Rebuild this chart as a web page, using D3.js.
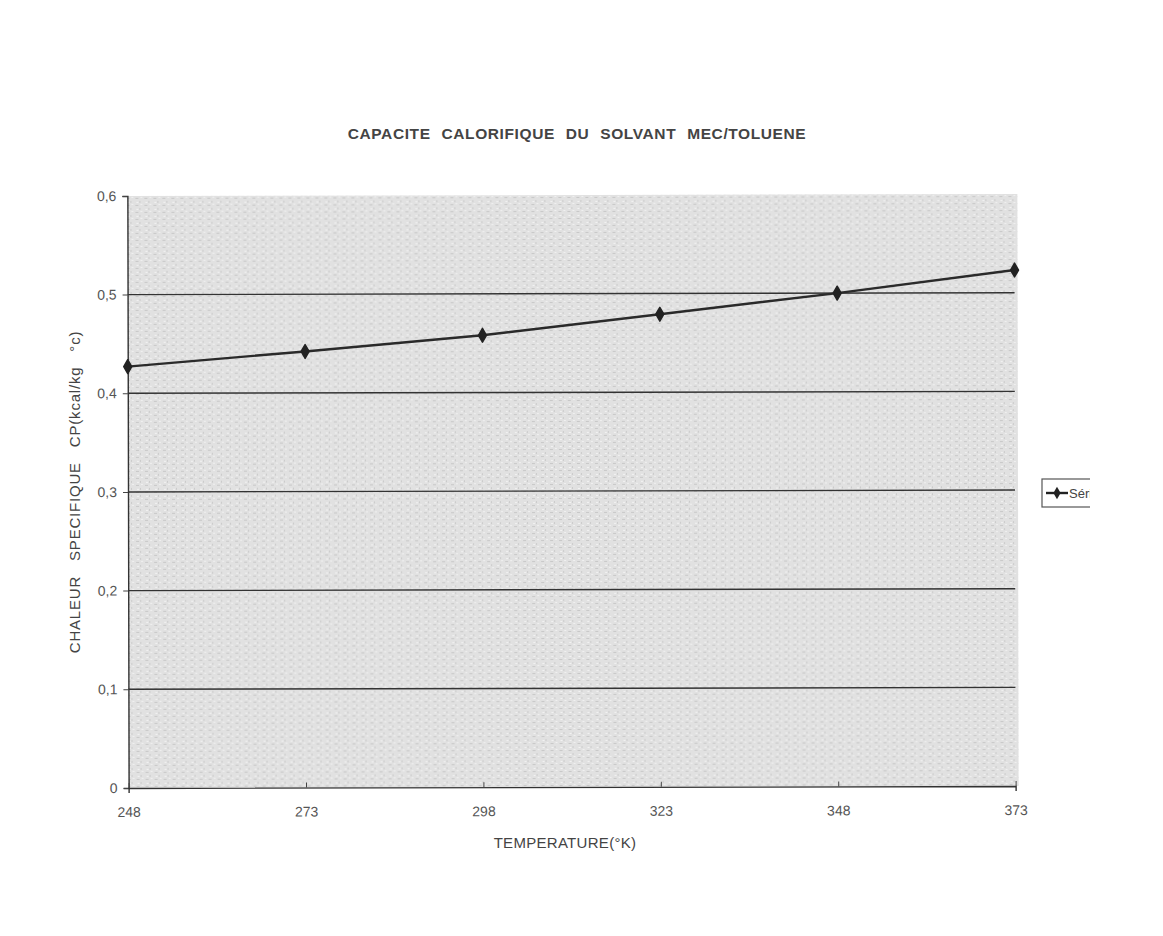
<!DOCTYPE html>
<html>
<head>
<meta charset="utf-8">
<script src="https://cdn.jsdelivr.net/npm/d3@7"></script>
<style>
  body { margin: 0; background: #fff; }
  svg { display: block; font-family: 'Liberation Sans', Arial, sans-serif; }
  .tick text { fill: #555; font-size: 14px; }
</style>
</head>
<body>
<div id="chart"></div>
<script>
(function () {
  'use strict'

  // Data
  var temperatures = [248, 273, 298, 323, 348, 373]
  var cpValues = [0.427, 0.442, 0.458, 0.479, 0.500, 0.523]
  var yTicks = [0, 0.1, 0.2, 0.3, 0.4, 0.5, 0.6]
  var seriesName = 'Série1'

  var W = 1163
  var H = 936
  var left = 128
  var right = 1015
  var top = 195
  var bottom = 787

  var svg = d3.select('#chart').append('svg')
    .attr('width', W)
    .attr('height', H)

  // grainy photocopy texture
  var defs = svg.append('defs')
  var pat = defs.append('pattern')
    .attr('id', 'grain')
    .attr('width', 9)
    .attr('height', 7)
    .attr('patternUnits', 'userSpaceOnUse')
  pat.append('rect').attr('width', 9).attr('height', 7).attr('fill', '#e1e1e1')
  pat.append('rect').attr('x', 1).attr('y', 1).attr('width', 3).attr('height', 1).attr('fill', '#c8c8c8')
  pat.append('rect').attr('x', 5).attr('y', 4).attr('width', 1).attr('height', 2).attr('fill', '#cbcbcb')
  pat.append('rect').attr('x', 6).attr('y', 0).attr('width', 2).attr('height', 1).attr('fill', '#f0f0f0')
  pat.append('rect').attr('x', 2).attr('y', 5).attr('width', 2).attr('height', 1).attr('fill', '#f2f2f2')

  var x = d3.scalePoint().domain(temperatures).range([left, right])
  var y = d3.scaleLinear().domain([0, 0.6]).range([bottom, top])

  var g = svg.append('g').attr('transform', 'rotate(-0.12,' + ((left + right) / 2) + ',' + ((top + bottom) / 2) + ')')

  g.append('rect')
    .attr('x', left)
    .attr('y', top)
    .attr('width', right - left + 3)
    .attr('height', bottom - top)
    .attr('fill', 'url(#grain)')

  // Horizontal gridlines
  g.append('g').selectAll('line')
    .data(yTicks.filter(function (d) { return d > 0 && d < 0.6 }))
    .enter().append('line')
    .attr('x1', left)
    .attr('x2', right)
    .attr('y1', function (d) { return y(d) })
    .attr('y2', function (d) { return y(d) })
    .attr('stroke', '#333')
    .attr('stroke-width', 1.4)

  // Axes
  var yAxis = d3.axisLeft(y).tickValues(yTicks).tickSize(5).tickPadding(6)
    .tickFormat(function (d) { return d === 0 ? '0' : d3.format('.1f')(d).replace('.', ',') })
  var xAxis = d3.axisBottom(x).tickSize(5).tickPadding(14)

  var ya = g.append('g')
    .attr('transform', 'translate(' + left + ',0)')
    .call(yAxis)
  var xa = g.append('g')
    .attr('transform', 'translate(0,' + bottom + ')')
    .call(xAxis)

  ;[ya, xa].forEach(function (a) {
    a.select('.domain').attr('stroke', '#333').attr('stroke-width', 1.4)
    a.selectAll('.tick line').attr('stroke', '#444')
    a.selectAll('.tick text').style('font-family', "'Liberation Sans Narrow', 'Liberation Sans', sans-serif")
  })
  xa.selectAll('.tick line').attr('transform', 'translate(0,-5)')

  // Series line
  var line = d3.line()
    .x(function (d, i) { return x(temperatures[i]) })
    .y(function (d) { return y(d) })

  g.append('path')
    .datum(cpValues)
    .attr('d', line)
    .attr('fill', 'none')
    .attr('stroke', '#2a2a2a')
    .attr('stroke-width', 2.4)

  g.append('g').selectAll('path')
    .data(cpValues)
    .enter().append('path')
    .attr('transform', function (d, i) { return 'translate(' + x(temperatures[i]) + ',' + y(d) + ')' })
    .attr('d', d3.symbol().type(d3.symbolDiamond).size(55))
    .attr('fill', '#222')
    .attr('stroke', '#222')
    .attr('stroke-width', 1.5)
    .attr('stroke-linejoin', 'round')

  // Titles
  svg.append('text')
    .attr('x', 577)
    .attr('y', 139)
    .attr('text-anchor', 'middle')
    .attr('font-size', 15.5)
    .attr('font-weight', 'bold')
    .attr('fill', '#444')
    .attr('word-spacing', 6)
    .attr('letter-spacing', 0.6)
    .text('CAPACITE CALORIFIQUE DU SOLVANT MEC/TOLUENE')

  svg.append('text')
    .attr('x', 565)
    .attr('y', 848)
    .attr('text-anchor', 'middle')
    .attr('font-size', 15)
    .attr('fill', '#444')
    .attr('letter-spacing', 0.3)
    .text('TEMPERATURE(°K)')

  svg.append('text')
    .attr('transform', 'translate(80,' + 492 + ') rotate(-90)')
    .attr('text-anchor', 'middle')
    .attr('font-size', 15)
    .attr('fill', '#444')
    .attr('word-spacing', 10)
    .attr('letter-spacing', 0.8)
    .text('CHALEUR SPECIFIQUE CP(kcal/kg °c)')

  // Legend, clipped at the page edge like the scan
  defs.append('clipPath').attr('id', 'edge')
    .append('rect').attr('x', 0).attr('y', 0).attr('width', 1090).attr('height', H)
  var lg = svg.append('g').attr('clip-path', 'url(#edge)')
  lg.append('rect')
    .attr('x', 1042).attr('y', 479)
    .attr('width', 60).attr('height', 28)
    .attr('fill', '#fff')
    .attr('stroke', '#555')
    .attr('stroke-width', 1.2)
  lg.append('line')
    .attr('x1', 1046).attr('x2', 1068)
    .attr('y1', 493).attr('y2', 493)
    .attr('stroke', '#222').attr('stroke-width', 2.4)
  lg.append('path')
    .attr('transform', 'translate(1057,493)')
    .attr('d', d3.symbol().type(d3.symbolDiamond).size(45))
    .attr('fill', '#222')
  lg.append('text')
    .attr('x', 1069).attr('y', 498)
    .attr('font-size', 13)
    .attr('fill', '#444')
    .text(seriesName)
}())
</script>
</body>
</html>
